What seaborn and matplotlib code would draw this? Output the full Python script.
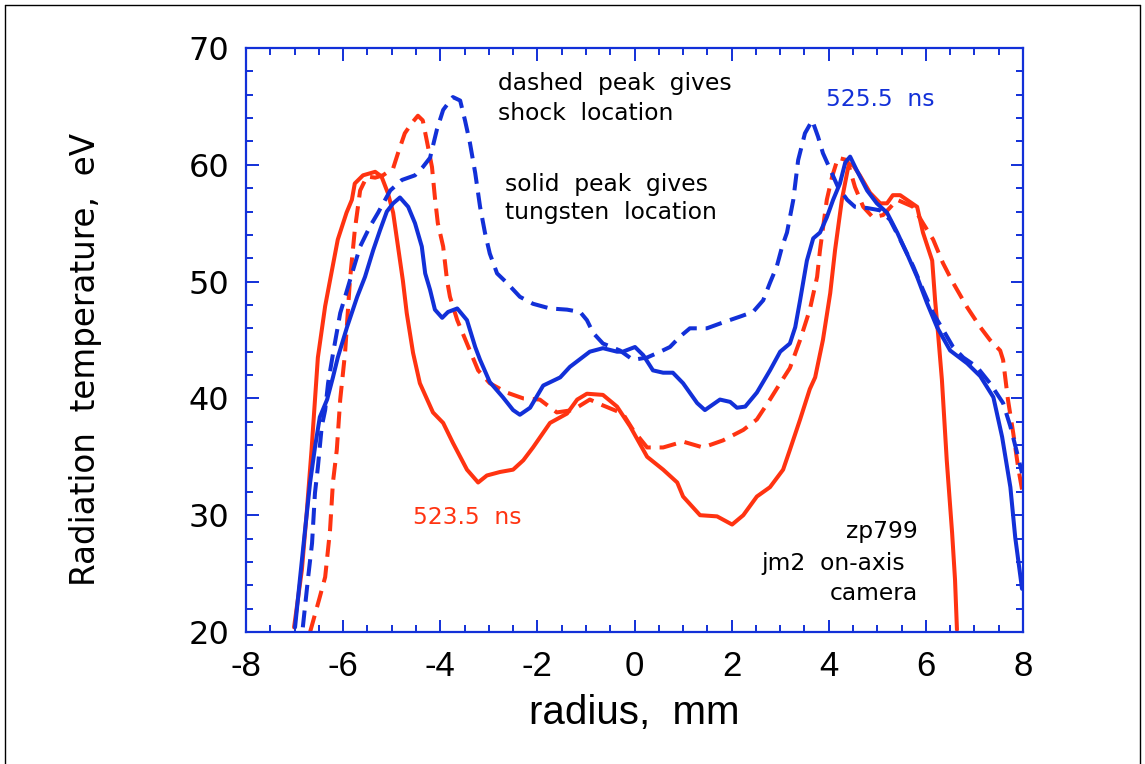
import numpy as np
import pandas as pd
import matplotlib
matplotlib.use("Agg")
import matplotlib.pyplot as plt
from matplotlib.lines import Line2D
from matplotlib.ticker import MultipleLocator
import seaborn as sns

# ---- data (radius mm, radiation temperature eV) ----
red_solid_x = [-7.01, -6.85, -6.75, -6.65, -6.52, -6.37, -6.27, -6.11, -5.93, -5.82, -5.76, -5.59, -5.34,
               -5.21, -5.08, -4.97, -4.87, -4.77, -4.69, -4.56, -4.42, -4.15, -3.94, -3.74, -3.45, -3.22,
               -3.04, -2.77, -2.50, -2.29, -2.09, -1.74, -1.39, -1.18, -0.98, -0.65, -0.36, -0.09, 0.26,
               0.59, 0.88, 1.00, 1.35, 1.70, 2.01, 2.24, 2.52, 2.79, 3.06, 3.20, 3.41, 3.61, 3.72, 3.88,
               4.03, 4.13, 4.27, 4.40, 4.48, 4.64, 4.85, 5.06, 5.20, 5.32, 5.47, 5.61, 5.82, 5.94, 6.13,
               6.19, 6.25, 6.33, 6.43, 6.54, 6.60, 6.64]
red_solid_y = [20.4, 25.3, 30.2, 35.6, 43.5, 47.9, 50.1, 53.6, 55.9, 57.0, 58.4, 59.1, 59.4,
               59.0, 57.6, 55.9, 53.0, 50.1, 47.3, 43.9, 41.3, 38.8, 37.9, 36.2, 33.9, 32.8,
               33.4, 33.7, 33.9, 34.7, 35.8, 37.9, 38.7, 39.9, 40.4, 40.3, 39.3, 37.6, 35.0,
               33.9, 32.8, 31.6, 30.0, 29.9, 29.2, 30.0, 31.6, 32.4, 33.9, 35.6, 38.2, 40.8, 41.8, 45.0,
               49.0, 52.7, 57.0, 59.8, 60.1, 59.1, 57.6, 56.7, 56.7, 57.4, 57.4, 57.0, 56.4, 54.2, 51.8,
               48.4, 45.6, 41.6, 34.7, 28.5, 24.5, 20.2]

red_dash_x = [-6.68, -6.48, -6.37, -6.27, -6.21, -6.13, -6.06, -5.96, -5.86, -5.76, -5.65, -5.51, -5.34,
              -5.18, -4.97, -4.87, -4.73, -4.58, -4.46, -4.36, -4.25, -4.17, -4.11, -4.05, -3.94, -3.86,
              -3.80, -3.65, -3.45, -3.33, -3.22, -2.98, -2.63, -2.29, -1.95, -1.60, -1.27, -0.92, -0.65,
              -0.24, -0.03, 0.26, 0.59, 1.00, 1.41, 1.82, 2.24, 2.52, 2.79, 3.00, 3.20, 3.41, 3.61, 3.76,
              3.82, 3.96, 4.07, 4.19, 4.38, 4.54, 4.71, 4.91, 5.12, 5.41, 5.74, 5.94, 6.15, 6.35, 6.56,
              6.85, 7.12, 7.32, 7.53, 7.59, 7.69, 7.80, 7.90, 7.98]
red_dash_y = [20.0, 23.0, 24.7, 28.7, 32.8, 35.6, 39.9, 43.9, 50.1, 54.4, 57.8, 59.0, 58.9,
              59.1, 59.7, 61.0, 62.7, 63.6, 64.2, 63.8, 61.5, 59.8, 57.2, 55.0, 53.0, 50.1,
              48.7, 46.7, 44.7, 43.5, 42.4, 41.3, 40.5, 40.0, 39.9, 38.8, 39.0, 39.9, 39.4,
              38.7, 37.3, 35.8, 35.8, 36.3, 35.8, 36.4, 37.3, 38.2, 39.9, 41.3, 42.6, 45.0, 47.6, 50.4,
              52.7, 57.0, 59.0, 60.6, 60.4, 58.1, 56.4, 55.5, 55.7, 57.0, 56.4, 55.0, 53.6, 51.6, 49.9,
              47.8, 46.1, 45.0, 44.1, 43.3, 39.9, 37.0, 34.1, 32.2]

blue_solid_x = [-6.99, -6.89, -6.79, -6.68, -6.58, -6.48, -6.33, -6.21, -6.11, -5.92, -5.71, -5.55, -5.38,
                -5.24, -5.10, -4.97, -4.83, -4.66, -4.52, -4.38, -4.31, -4.21, -4.11, -3.96, -3.84, -3.65,
                -3.45, -3.28, -3.18, -2.98, -2.71, -2.50, -2.36, -2.15, -1.88, -1.53, -1.33, -0.92, -0.65,
                -0.36, -0.24, 0.01, 0.18, 0.38, 0.59, 0.79, 1.00, 1.29, 1.45, 1.76, 1.97, 2.11, 2.28, 2.52,
                2.79, 3.00, 3.20, 3.31, 3.41, 3.55, 3.68, 3.82, 3.96, 4.09, 4.23, 4.34, 4.44, 4.58, 4.79,
                4.99, 5.20, 5.41, 5.61, 5.82, 6.02, 6.23, 6.50, 6.85, 7.12, 7.39, 7.57, 7.74, 7.84, 7.98]
blue_solid_y = [20.4, 24.5, 28.5, 32.8, 35.8, 38.4, 39.9, 41.8, 43.5, 46.1, 48.7, 50.4, 52.7,
                54.4, 56.0, 56.7, 57.2, 56.4, 55.0, 53.0, 50.7, 49.3, 47.6, 46.9, 47.4, 47.7,
                46.7, 44.4, 43.3, 41.4, 40.1, 39.0, 38.6, 39.2, 41.1, 41.8, 42.7, 44.0, 44.3,
                44.0, 44.0, 44.4, 43.7, 42.4, 42.2, 42.2, 41.3, 39.6, 39.0, 39.9, 39.7, 39.2, 39.3, 40.5,
                42.4, 44.0, 44.7, 46.1, 48.4, 51.8, 53.7, 54.2, 55.5, 57.0, 58.4, 60.2, 60.7, 59.5, 57.8,
                56.7, 55.9, 54.2, 52.4, 50.4, 48.2, 46.1, 44.1, 43.0, 41.9, 40.1, 36.7, 32.4, 28.1, 23.7]

blue_dash_x = [-6.83, -6.72, -6.64, -6.58, -6.52, -6.44, -6.37, -6.31, -6.21, -6.06, -5.86, -5.65, -5.45,
               -5.28, -5.03, -4.79, -4.52, -4.36, -4.21, -4.07, -3.94, -3.74, -3.59, -3.49, -3.39, -3.28,
               -3.18, -3.08, -2.98, -2.83, -2.63, -2.36, -2.09, -1.74, -1.39, -1.12, -0.98, -0.85, -0.65,
               -0.30, -0.03, 0.26, 0.53, 0.73, 0.94, 1.14, 1.49, 1.82, 2.17, 2.44, 2.65, 2.79, 2.93, 3.04,
               3.14, 3.27, 3.37, 3.51, 3.66, 3.78, 3.88, 4.03, 4.19, 4.38, 4.54, 4.79, 5.06, 5.26, 5.47,
               5.74, 5.94, 6.15, 6.35, 6.56, 6.77, 7.05, 7.32, 7.59, 7.74, 7.88, 7.98]
blue_dash_y = [20.4, 24.7, 27.6, 31.9, 34.1, 37.6, 39.0, 41.3, 43.8, 47.3, 50.1, 53.0, 54.7,
               55.9, 57.8, 58.7, 59.1, 59.8, 60.6, 63.0, 64.7, 65.8, 65.5, 63.8, 61.9, 59.3,
               56.4, 54.2, 52.4, 50.7, 49.9, 48.7, 48.1, 47.7, 47.6, 47.4, 46.7, 45.6, 44.7,
               44.1, 43.3, 43.5, 44.0, 44.4, 45.3, 46.0, 46.0, 46.5, 47.0, 47.4, 48.4, 49.9, 51.3, 53.0,
               54.2, 57.0, 60.4, 62.7, 63.8, 62.4, 61.0, 59.6, 58.1, 57.0, 56.4, 56.3, 56.1, 55.3, 53.6,
               51.3, 49.3, 47.3, 45.9, 44.4, 43.5, 42.7, 41.3, 39.6, 37.6, 35.3, 33.6]

series_names = ["523.5 solid", "523.5 dashed", "525.5 solid", "525.5 dashed"]
xtick_labels = ["-8", "-6", "-4", "-2", "0", "2", "4", "6", "8"]
ytick_labels = ["20", "30", "40", "50", "60", "70"]

RED = "#ff3311"
BLUE = "#1230d8"

frames = []
for name, xs, ys in zip(series_names,
                        [red_solid_x, red_dash_x, blue_solid_x, blue_dash_x],
                        [red_solid_y, red_dash_y, blue_solid_y, blue_dash_y]):
    frames.append(pd.DataFrame({"radius": xs, "temp": ys, "series": name}))
df = pd.concat(frames, ignore_index=True)

sns.set_style("white")
plt.rcParams['font.family'] = ['DejaVu Sans']
plt.rcParams['text.color'] = 'black'
plt.rcParams['axes.labelcolor'] = 'black'

NARROW = ['Liberation Sans', 'DejaVu Sans']

fig = plt.figure(figsize=(11.45, 7.64), dpi=100)
ax = fig.add_axes([246 / 1145, 1 - 632 / 764, (1023 - 246) / 1145, (632 - 48) / 764])

styles = {
    "523.5 solid": dict(color=RED, dashes=None),
    "523.5 dashed": dict(color=RED, dashes=(4.2, 2.2)),
    "525.5 solid": dict(color=BLUE, dashes=None),
    "525.5 dashed": dict(color=BLUE, dashes=(4.2, 2.2)),
}
for name in series_names:
    sub = df[df["series"] == name]
    st = styles[name]
    line_ax = sns.lineplot(x="radius", y="temp", data=sub, ax=ax, color=st["color"], lw=2.9,
                           sort=False, estimator=None, legend=False)
    if st["dashes"] is not None:
        line_ax.lines[-1].set_dashes(st["dashes"])

ax.set_xlim(-8, 8)
ax.set_ylim(20, 70)
ax.set_xticks([-8, -6, -4, -2, 0, 2, 4, 6, 8])
ax.set_xticklabels(xtick_labels)
ax.set_yticks([20, 30, 40, 50, 60, 70])
ax.set_yticklabels(ytick_labels)
ax.xaxis.set_minor_locator(MultipleLocator(0.5))
ax.yaxis.set_minor_locator(MultipleLocator(2))

for sp in ax.spines.values():
    sp.set_color(BLUE)
    sp.set_linewidth(1.6)
    sp.set_visible(True)

ax.tick_params(which="both", direction="in", top=True, right=True, bottom=True, left=True,
               color=BLUE, width=1.4)
ax.tick_params(which="major", length=9)
ax.tick_params(which="minor", length=5)
ax.tick_params(axis="x", which="major", pad=13, labelsize=25, labelcolor="black")
ax.tick_params(axis="y", which="major", pad=12, labelsize=23, labelcolor="black")
for lab in ax.get_xticklabels():
    lab.set_family(NARROW)

ax.set_xlabel("radius,  mm", fontsize=29, family=NARROW)
ax.xaxis.set_label_coords(0.5, -0.139)
ax.xaxis.label.set_va("center")
ax.set_ylabel("Radiation  temperature,  eV", fontsize=23.5)
ax.yaxis.set_label_coords(-0.207, 0.467)
ax.yaxis.label.set_va("center")

txt = dict(fontsize=16.8, color="black", va="center")
ax.text(-2.81, 67.0, "dashed  peak  gives", **txt)
ax.text(-2.81, 64.4, "shock  location", **txt)
ax.text(-2.67, 58.3, "solid  peak  gives", **txt)
ax.text(-2.67, 55.9, "tungsten  location", **txt)
ax.text(3.94, 65.6, "525.5  ns", fontsize=16.8, color=BLUE, va="center")
ax.text(-4.56, 29.8, "523.5  ns", fontsize=16.8, color=RED, va="center")
ax.text(5.84, 28.6, "zp799", fontsize=16.8, ha="right", va="center", color="black")
ax.text(5.57, 25.9, "jm2  on-axis", fontsize=16.8, ha="right", va="center", color="black")
ax.text(5.84, 23.3, "camera", fontsize=16.8, ha="right", va="center", color="black")

# outer frame lines
for (x0, y0, x1, y1) in [(5, 5, 1140, 5), (5, 5, 5, 764), (1140, 5, 1140, 764)]:
    fig.add_artist(Line2D([x0 / 1145, x1 / 1145], [1 - y0 / 764, 1 - y1 / 764],
                          color="black", lw=1.0, transform=fig.transFigure))

fig.savefig("out.png", dpi=100)
